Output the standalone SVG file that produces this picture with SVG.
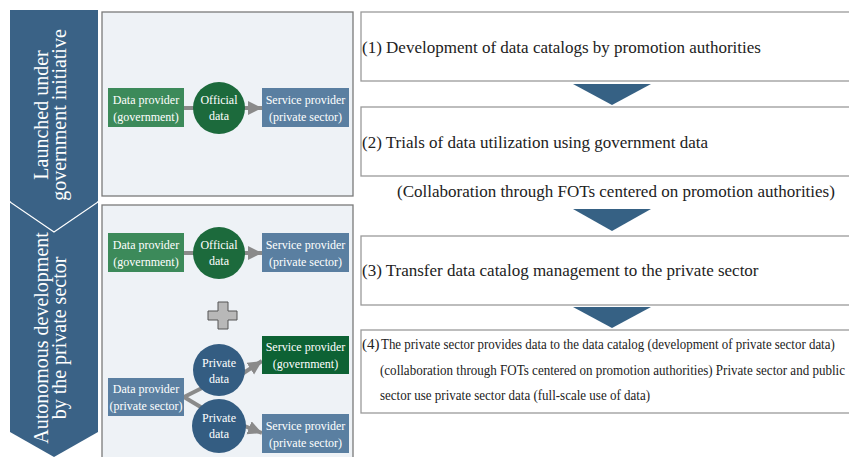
<svg xmlns="http://www.w3.org/2000/svg" width="849" height="457" viewBox="0 0 849 457" font-family="'Liberation Serif', 'DejaVu Serif', 'Noto Serif', Tinos, FreeSerif, serif">
  <style>
    text { font-family: "Liberation Serif", "DejaVu Serif", "Noto Serif", Tinos, FreeSerif, "Times New Roman", serif; }
    .banner { fill: #3a6286; }
    .bannerText { font-size: 20px; fill: #ffffff; text-anchor: middle; }
    .panel { fill: #eef2f6; stroke: #7a7a7a; stroke-width: 1.3; }
    .step { fill: #ffffff; stroke: #9a9a9a; stroke-width: 1.3; }
    .stepText { font-size: 17px; fill: #222222; }
    .smallText { font-size: 15px; fill: #222222; }
    .lbl { font-size: 12px; fill: #ffffff; text-anchor: middle; }
    .gov { fill: #3c8a5a; }
    .govDark { fill: #1c6a3c; }
    .svcGov { fill: #0d6234; }
    .priv { fill: #5a7fa1; }
    .privCircle { fill: #345d82; }
    .link { stroke: #8a8a8a; stroke-width: 4; fill: none; }
    .down { fill: #366184; }
  </style>
  <defs>
    <marker id="arrow" markerUnits="userSpaceOnUse" markerWidth="16" markerHeight="16" refX="14" refY="7" orient="auto">
      <path d="M0,0 L14,7 L0,14 Z" fill="#8a8a8a"/>
    </marker>
  </defs>

  <!-- left phase banners -->
  <g id="banner-autonomous">
    <polygon class="banner" points="10,202 98,202 98,432 54,457 10,432"/>
    <text class="bannerText" transform="translate(48,338) rotate(-90)">Autonomous development</text>
    <text class="bannerText" transform="translate(66,338) rotate(-90)">by the private sector</text>
  </g>
  <g id="banner-launched">
    <polygon class="banner" points="10,10 98,10 98,202 54,232 10,202" stroke="#ffffff" stroke-width="1.2"/>
    <rect class="banner" x="10" y="10" width="88" height="191"/>
    <text class="bannerText" transform="translate(48,115) rotate(-90)">Launched under</text>
    <text class="bannerText" transform="translate(66,115) rotate(-90)">government initiative</text>
  </g>

  <!-- background panels -->
  <g id="panel-top"><rect class="panel" x="102" y="12" width="251" height="184"/></g>
  <g id="panel-bottom"><rect class="panel" x="102" y="205" width="251" height="260"/></g>

  <!-- connectors -->
  <g id="connectors">
    <line class="link" x1="184" y1="108" x2="200" y2="108"/>
    <line class="link" x1="240" y1="108" x2="262" y2="108" marker-end="url(#arrow)"/>
    <line class="link" x1="184" y1="253" x2="200" y2="253"/>
    <line class="link" x1="240" y1="253" x2="262" y2="253" marker-end="url(#arrow)"/>
    <line class="link" x1="184" y1="397" x2="204" y2="387"/>
    <line class="link" x1="184" y1="397" x2="204" y2="409"/>
    <line class="link" x1="242" y1="374" x2="262" y2="361" marker-end="url(#arrow)"/>
    <line class="link" x1="242" y1="425" x2="262" y2="433" marker-end="url(#arrow)"/>
  </g>

  <!-- top panel nodes -->
  <g id="gov-provider-1">
    <rect class="gov" x="108" y="88" width="76" height="39"/>
    <text class="lbl" x="146" y="104">Data provider</text>
    <text class="lbl" x="146" y="121">(government)</text>
  </g>
  <g id="official-data-1">
    <circle class="govDark" cx="219" cy="108" r="26"/>
    <text class="lbl" x="219" y="104">Official</text>
    <text class="lbl" x="219" y="120">data</text>
  </g>
  <g id="service-private-1">
    <rect class="priv" x="262" y="88" width="87" height="39"/>
    <text class="lbl" x="305.5" y="104">Service provider</text>
    <text class="lbl" x="305.5" y="121">(private sector)</text>
  </g>

  <!-- bottom panel nodes -->
  <g id="gov-provider-2">
    <rect class="gov" x="108" y="233" width="76" height="39"/>
    <text class="lbl" x="146" y="249">Data provider</text>
    <text class="lbl" x="146" y="266">(government)</text>
  </g>
  <g id="official-data-2">
    <circle class="govDark" cx="219" cy="253" r="26"/>
    <text class="lbl" x="219" y="249">Official</text>
    <text class="lbl" x="219" y="265">data</text>
  </g>
  <g id="service-private-2">
    <rect class="priv" x="262" y="233" width="87" height="39"/>
    <text class="lbl" x="305.5" y="249">Service provider</text>
    <text class="lbl" x="305.5" y="266">(private sector)</text>
  </g>
  <g id="plus">
    <path d="M218,302 H228 V311 H237 V320 H228 V329 H218 V320 H208 V311 H218 Z" fill="#b8b8b8" stroke="#555555" stroke-width="1"/>
  </g>
  <g id="service-government">
    <rect class="svcGov" x="262" y="336" width="87" height="38"/>
    <text class="lbl" x="305.5" y="351">Service provider</text>
    <text class="lbl" x="305.5" y="368">(government)</text>
  </g>
  <g id="private-provider">
    <rect class="priv" x="108" y="378" width="76" height="38"/>
    <text class="lbl" x="146" y="393">Data provider</text>
    <text class="lbl" x="146" y="410">(private sector)</text>
  </g>
  <g id="private-data-1">
    <circle class="privCircle" cx="219" cy="370" r="26"/>
    <text class="lbl" x="219" y="367">Private</text>
    <text class="lbl" x="219" y="383">data</text>
  </g>
  <g id="private-data-2">
    <circle class="privCircle" cx="219" cy="426" r="27"/>
    <text class="lbl" x="219" y="422">Private</text>
    <text class="lbl" x="219" y="438">data</text>
  </g>
  <g id="service-private-3">
    <rect class="priv" x="262" y="414" width="87" height="39"/>
    <text class="lbl" x="305.5" y="430">Service provider</text>
    <text class="lbl" x="305.5" y="447">(private sector)</text>
  </g>

  <!-- process steps -->
  <g id="step-1">
    <rect class="step" x="361" y="12" width="495" height="69"/>
    <text class="stepText" x="362" y="53">(1) Development of data catalogs by promotion authorities</text>
  </g>
  <polygon class="down" points="573,84 651,84 612,105"/>
  <g id="step-2">
    <rect class="step" x="361" y="107" width="495" height="69"/>
    <text class="stepText" x="362" y="148">(2) Trials of data utilization using government data</text>
  </g>
  <text class="stepText" x="397" y="197">(Collaboration through FOTs centered on promotion authorities)</text>
  <polygon class="down" points="573,209 651,209 612,231"/>
  <g id="step-3">
    <rect class="step" x="361" y="236" width="495" height="69"/>
    <text class="stepText" x="362" y="276">(3) Transfer data catalog management to the private sector</text>
  </g>
  <polygon class="down" points="573,307 651,307 612,328"/>
  <g id="step-4">
    <rect class="step" x="361" y="330" width="495" height="83"/>
    <text class="smallText" x="362" y="349" font-size="16">(4)</text>
    <!-- condensed body lines: horizontal squeeze applied by transform -->
    <text class="smallText" transform="translate(381,349) scale(0.75,1)" textLength="605" lengthAdjust="spacingAndGlyphs">The private sector provides data to the data catalog (development of private sector data)</text>
    <text class="smallText" transform="translate(380,375) scale(0.75,1)" textLength="620" lengthAdjust="spacingAndGlyphs">(collaboration through FOTs centered on promotion authorities) Private sector and public</text>
    <text class="smallText" transform="translate(380,400) scale(0.75,1)" textLength="360" lengthAdjust="spacingAndGlyphs">sector use private sector data (full-scale use of data)</text>
  </g>
</svg>
